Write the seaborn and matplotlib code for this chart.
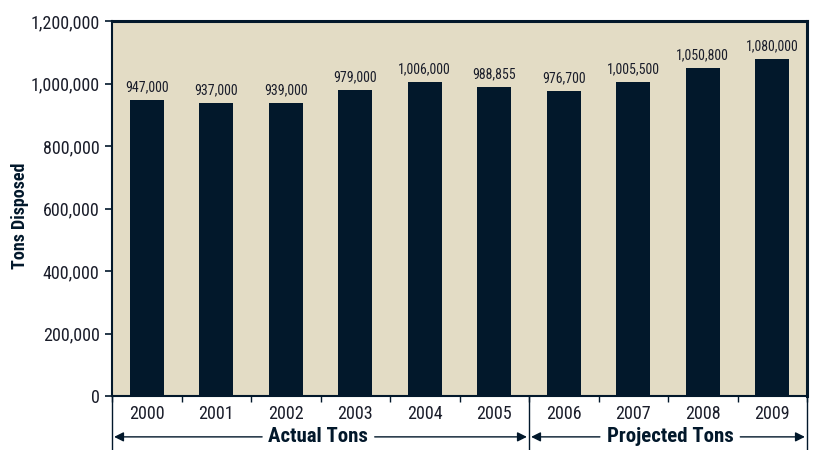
import pandas as pd
import numpy as np
import matplotlib.pyplot as plt
import seaborn as sns
from matplotlib import font_manager
from matplotlib.ticker import FuncFormatter

years = ['2000', '2001', '2002', '2003', '2004', '2005', '2006', '2007', '2008', '2009']
tons = [947000, 937000, 939000, 979000, 1006000, 988855, 976700, 1005500, 1050800, 1080000]
labels = ['947,000', '937,000', '939,000', '979,000', '1,006,000', '988,855',
          '976,700', '1,005,500', '1,050,800', '1,080,000']

navy = '#02182b'
bg = '#e3dcc5'
txt = '#1a1d2a'

# pick a narrow font that has both regular and bold
weights = {}
for f in font_manager.fontManager.ttflist:
    if 'Narrow' in f.name or 'Condensed' in f.name:
        w = f.weight if isinstance(f.weight, int) else font_manager.weight_dict.get(f.weight, 400)
        weights.setdefault(f.name, set()).add(w)
good = [n for n, ws in weights.items() if 400 in ws and max(ws) >= 600]
pref = ['Liberation Sans Narrow', 'Roboto Condensed', 'Open Sans Condensed', 'Noto Sans Condensed']
good.sort(key=lambda n: pref.index(n) if n in pref else 99)
family = good[0] if good else 'DejaVu Sans'

sns.set_style('white')
plt.rcParams['font.family'] = [family, 'DejaVu Sans']
if not good:
    plt.rcParams['font.stretch'] = 'condensed'

df = pd.DataFrame({'year': years, 'tons': tons})

fig = plt.figure(figsize=(8.15, 4.5), dpi=100)
ax = fig.add_axes([112/815, 1-396/450, (807-112)/815, (396-21)/450])
sns.barplot(data=df, x='year', y='tons', color=navy, width=0.49, saturation=1,
            linewidth=0, ax=ax)
ax.set_facecolor(bg)
ax.set_xlim(-0.5, 9.5)
ax.set_ylim(0, 1200000)
ax.set_yticks(np.arange(0, 1200001, 200000))
ax.yaxis.set_major_formatter(FuncFormatter(lambda v, p: f'{int(v):,}'))
ax.tick_params(axis='y', labelsize=13, colors=navy, length=5, width=1.2, left=True,
               labelcolor=txt, pad=4)
ax.set_ylabel('Tons Disposed', fontsize=13, fontweight='bold', color=navy)
ax.yaxis.set_label_coords(-0.119, 0.48)
ax.set_xlabel('')

# years as text, ticks on category boundaries
ax.set_xticks(np.arange(-0.5, 10, 1))
ax.set_xticklabels([])
ax.tick_params(axis='x', length=4, width=1, colors=navy, bottom=True)
tr = ax.get_xaxis_transform()
for i, y in enumerate(years):
    ax.text(i, -0.024, y, transform=tr, ha='center', va='top', fontsize=13, color=txt)

for s in ['left', 'top', 'right', 'bottom']:
    ax.spines[s].set_color(navy)
ax.spines['left'].set_linewidth(1.5)
ax.spines['bottom'].set_linewidth(1.5)
ax.spines['top'].set_linewidth(2.2)
ax.spines['right'].set_linewidth(2.2)

for i, (v, lab) in enumerate(zip(tons, labels)):
    ax.text(i, v + 18000, lab, ha='center', va='bottom', fontsize=10, color=txt)

# group separators below axis
for xv in [-0.5, 5.5, 9.5]:
    ax.plot([xv, xv], [0, -0.145], transform=tr, color=navy, lw=1, clip_on=False)

ya = -0.109
groups = [(-0.5, 5.5, 'Actual Tons', 2.47, 1.66, 3.28),
          (5.5, 9.5, 'Projected Tons', 7.53, 6.52, 8.54)]
for x0, x1, name, mid, g0, g1 in groups:
    ax.text(mid, ya, name, transform=tr, ha='center', va='center', fontsize=15,
            fontweight='bold', color=navy)
    ax.annotate('', xy=(x0 + 0.03, ya), xytext=(g0, ya), xycoords=tr, textcoords=tr,
                arrowprops=dict(arrowstyle='-|>', color=navy, lw=1, mutation_scale=14,
                                shrinkA=0, shrinkB=0))
    ax.annotate('', xy=(x1 - 0.03, ya), xytext=(g1, ya), xycoords=tr, textcoords=tr,
                arrowprops=dict(arrowstyle='-|>', color=navy, lw=1, mutation_scale=14,
                                shrinkA=0, shrinkB=0))

fig.savefig('out.png', dpi=100)
